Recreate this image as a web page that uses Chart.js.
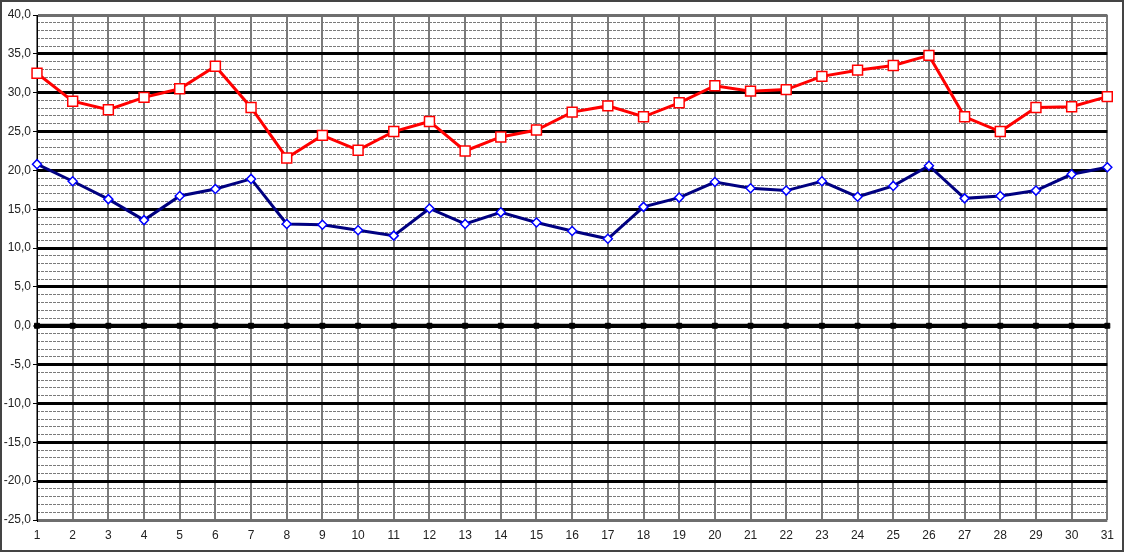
<!DOCTYPE html>
<html>
<head>
<meta charset="utf-8">
<script src="https://cdn.jsdelivr.net/npm/chart.js@4"></script>
<style>
html,body{margin:0;padding:0;background:#fff;}
#wrap{width:1124px;height:552px;box-sizing:border-box;border:2px solid #444;position:relative;}
canvas{display:block;}
</style>
</head>
<body>
<div id="wrap"><canvas id="c" width="1120" height="548"></canvas></div>
<script>
const days = ["1","2","3","4","5","6","7","8","9","10","11","12","13","14","15","16","17","18","19","20","21","22","23","24","25","26","27","28","29","30","31"];
const maxTemp = [32.5,28.9,27.8,29.4,30.5,33.4,28.1,21.6,24.5,22.6,25.0,26.3,22.5,24.3,25.2,27.5,28.3,26.9,28.7,30.9,30.2,30.4,32.1,32.9,33.5,34.8,26.9,25.0,28.1,28.2,29.5];
const minTemp = [20.8,18.6,16.3,13.6,16.7,17.6,18.9,13.1,13.0,12.3,11.6,15.1,13.1,14.6,13.3,12.2,11.2,15.3,16.5,18.5,17.7,17.4,18.6,16.6,18.0,20.6,16.4,16.7,17.4,19.5,20.4];
const zeroLine = [0,0,0,0,0,0,0,0,0,0,0,0,0,0,0,0,0,0,0,0,0,0,0,0,0,0,0,0,0,0,0];
const yMin = -25, yMax = 40, yMajorStep = 5, yMinorStep = 1;

Chart.defaults.font.family = "'Liberation Sans', Arial, sans-serif";
Chart.defaults.font.size = 12;
Chart.defaults.color = '#222';

new Chart(document.getElementById('c'), {
  type: 'line',
  data: {
    labels: days,
    datasets: [
      {
        data: zeroLine, borderColor: '#000', backgroundColor: '#000', borderWidth: 4,
        pointStyle: 'rect', pointRadius: 3.5, pointBorderWidth: 1, pointBorderColor: '#000', pointBackgroundColor: '#000',
        tension: 0, order: 3
      },
      {
        data: minTemp, borderColor: '#000080', borderWidth: 3,
        pointStyle: 'rectRot', pointRadius: 4.5, pointBorderWidth: 1.5, pointBorderColor: '#0000FF', pointBackgroundColor: '#fff',
        tension: 0, order: 2
      },
      {
        data: maxTemp, borderColor: '#FF0000', borderWidth: 3,
        pointStyle: 'rect', pointRadius: 7, pointBorderWidth: 1.5, pointBorderColor: '#FF0000', pointBackgroundColor: '#fff',
        tension: 0, order: 1
      }
    ]
  },
  options: {
    responsive: false,
    animation: false,
    layout: { padding: { left: 0, top: 13, right: 13, bottom: 0 } },
    plugins: { legend: { display: false }, tooltip: { enabled: false } },
    scales: {
      x: {
        type: 'category',
        offset: false,
        grid: { color: '#7a7a7a', lineWidth: 2, drawTicks: false },
        border: { display: false },
        ticks: { padding: 8, maxRotation: 0, autoSkip: false, color: '#222', font: { size: 12 } },
        afterFit: s => { s.height = 30; }
      },
      y: {
        min: yMin, max: yMax,
        position: 'left',
        ticks: {
          stepSize: yMajorStep, padding: 2, color: '#222', font: { size: 12 },
          callback: v => v.toFixed(1).replace('.', ',')
        },
        grid: {
          color: ctx => (ctx.tick && (ctx.tick.value === yMax || ctx.tick.value === yMin)) ? '#6e6e6e' : '#000',
          lineWidth: ctx => (ctx.tick && ctx.tick.value === 0) ? 4 : 3,
          tickLength: 4, tickColor: '#000', tickWidth: 1
        },
        border: { display: true, color: '#000', width: 1 },
        afterFit: s => { s.width = 35; }
      },
      yMinor: {
        min: yMin, max: yMax,
        position: 'right',
        ticks: { display: false, stepSize: yMinorStep },
        grid: {
          color: ctx => (ctx.tick && ctx.tick.value % yMajorStep === 0) ? 'rgba(0,0,0,0)' : '#7a7a7a',
          lineWidth: 1, drawTicks: false
        },
        border: { display: false, dash: [3, 1] },
        afterFit: s => { s.width = 0; }
      }
    }
  }
});
</script>
</body>
</html>
